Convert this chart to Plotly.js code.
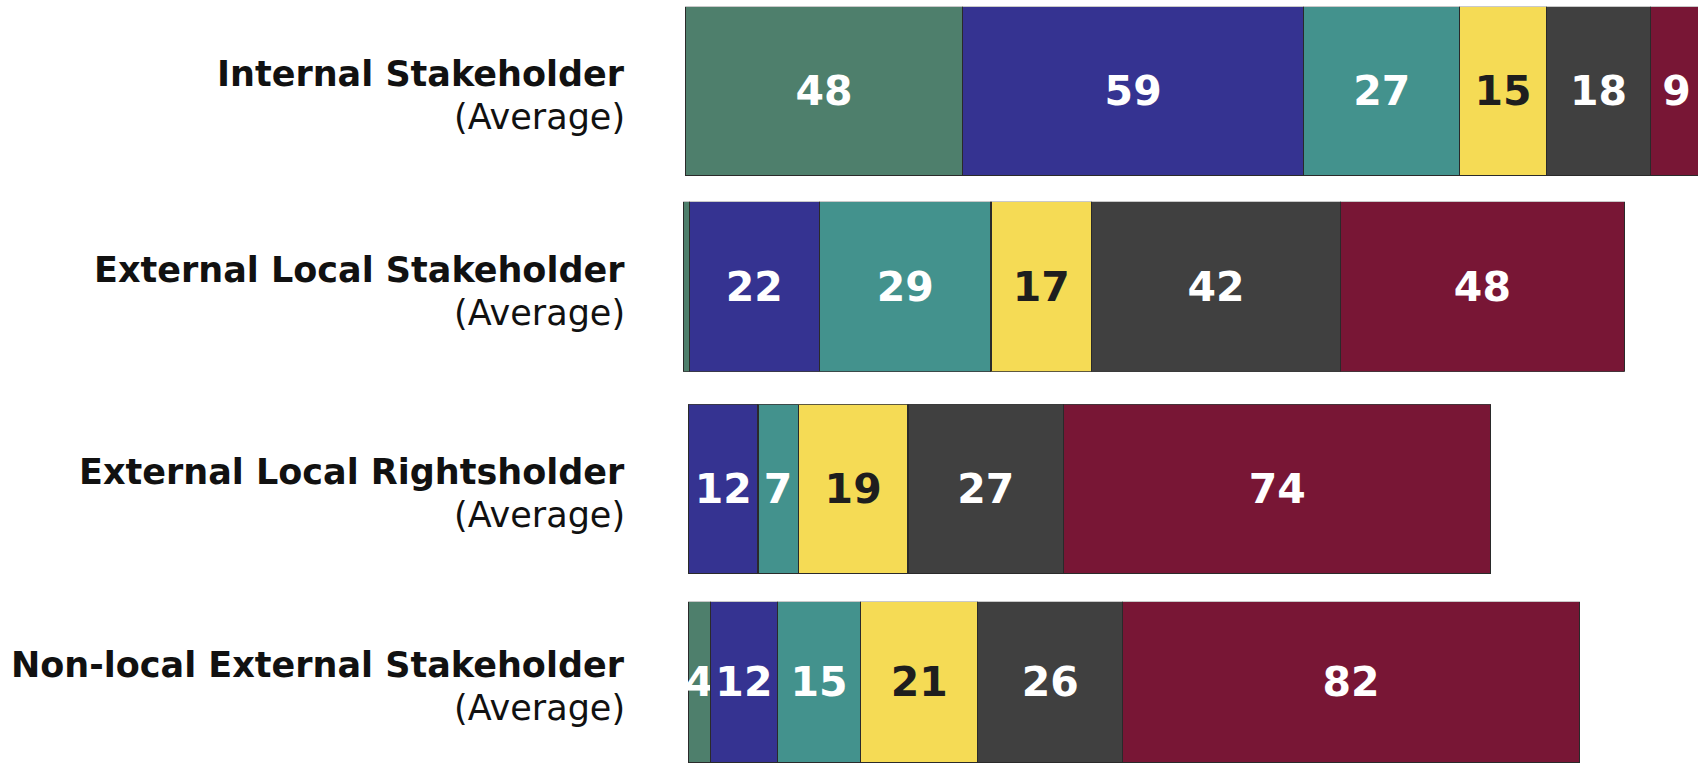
<!DOCTYPE html>
<html>
<head>
<meta charset="utf-8">
<script src="https://cdn.plot.ly/plotly-3.0.1.min.js"></script>
<style>html,body{margin:0;padding:0;background:#fff;}#chart{width:1698px;height:764px;}</style>
</head>
<body>
<div id="chart"></div>
<script>
// ---- data ----
const categories = ["Internal Stakeholder", "External Local Stakeholder", "External Local Rightsholder", "Non-local External Stakeholder"];
const subLabel = "(Average)";
const seriesNames = ["Series 1", "Series 2", "Series 3", "Series 4", "Series 5", "Series 6"];
const series1 = [48, 1, 0, 4];
const series2 = [59, 22, 12, 12];
const series3 = [27, 29, 7, 15];
const series4 = [15, 17, 19, 21];
const series5 = [18, 42, 27, 26];
const series6 = [9, 48, 74, 82];

// ---- styling ----
const seriesValues = [series1, series2, series3, series4, series5, series6];
const colors = ["#4E7F6C", "#353391", "#43928D", "#F5DB55", "#404040", "#781635"];
const textColors = ["#FFFFFF", "#FFFFFF", "#FFFFFF", "#1E1E1E", "#FFFFFF", "#FFFFFF"];
// per-row axis settings (x pixel of zero, px per unit, vertical band in px)
const rowAxis = [
  {x0: 685.2, s: 5.78, top: 6.7, bottom: 176},
  {x0: 683.2, s: 5.92, top: 201.7, bottom: 371.7},
  {x0: 688.7, s: 5.77, top: 404.3, bottom: 574},
  {x0: 688.2, s: 5.57, top: 601.7, bottom: 763}
];
const W = 1698, H = 764;
const FONT = "DejaVu Sans, sans-serif";

const traces = [];
const layout = {
  width: W, height: H,
  margin: {l: 0, r: 0, t: 0, b: 0, pad: 0},
  paper_bgcolor: "#FFFFFF", plot_bgcolor: "#FFFFFF",
  barmode: "stack", bargap: 0,
  showlegend: false,
  annotations: []
};

categories.forEach((cat, r) => {
  const suf = r === 0 ? "" : String(r + 1);
  const ax = rowAxis[r];
  layout["xaxis" + suf] = {
    domain: [0, 1], range: [-ax.x0 / ax.s, (W - ax.x0) / ax.s],
    visible: false, fixedrange: true, anchor: "y" + suf
  };
  layout["yaxis" + suf] = {
    domain: [1 - ax.bottom / H, 1 - ax.top / H], type: "category",
    range: [-0.5, 0.5], visible: false, fixedrange: true, anchor: "x" + suf
  };
  seriesValues.forEach((vals, k) => {
    const v = vals[r];
    traces.push({
      type: "bar", orientation: "h",
      name: seriesNames[k],
      x: [v], y: [cat],
      xaxis: "x" + suf, yaxis: "y" + suf,
      marker: {color: colors[k], line: {color: "#2A2A2A", width: 1.2}},
      text: [v >= 2 ? String(v) : ""],
      textposition: "inside", insidetextanchor: "middle",
      textangle: 0, constraintext: "none",
      insidetextfont: {family: FONT, size: 41, color: textColors[k], weight: "bold"},
      hoverinfo: "skip"
    });
  });
  layout.annotations.push({
    xref: "paper", x: 627 / W, xanchor: "right",
    yref: "y" + suf + " domain", y: 0.5, yanchor: "middle", yshift: 17,
    text: "<b>" + cat + "</b>", showarrow: false, align: "right",
    font: {family: FONT, size: 35, color: "#111111"}
  });
  layout.annotations.push({
    xref: "paper", x: 627 / W, xanchor: "right",
    yref: "y" + suf + " domain", y: 0.5, yanchor: "middle", yshift: -26,
    text: subLabel, showarrow: false, align: "right",
    font: {family: FONT, size: 35, color: "#111111"}
  });
});

Plotly.newPlot("chart", traces, layout, {displayModeBar: false, staticPlot: true});
</script>
</body>
</html>
